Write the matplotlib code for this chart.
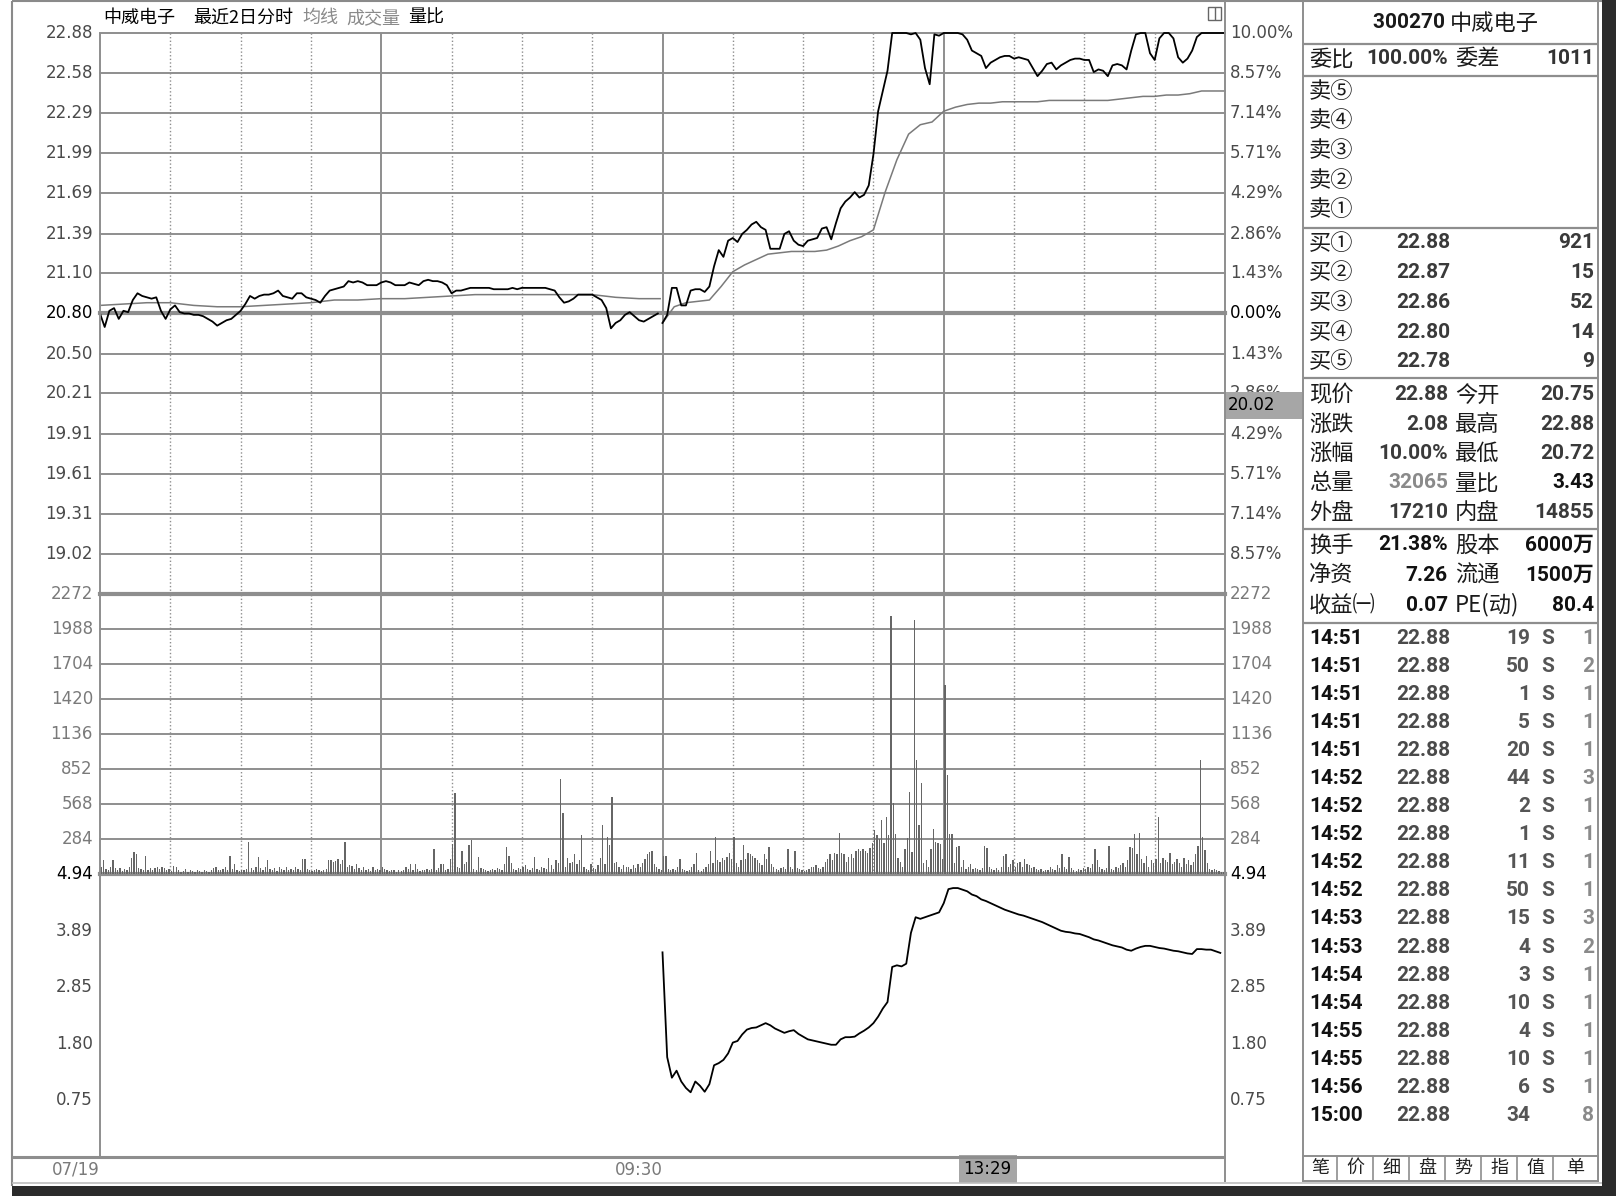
import numpy as np
import matplotlib
matplotlib.use('Agg')
import matplotlib.pyplot as plt
from matplotlib.lines import Line2D
from matplotlib.patches import Rectangle
from matplotlib.transforms import blended_transform_factory

# ---------------- data ----------------
stock_name = '中威电子'
stock_code = '300270'
price_labels = ['22.88', '22.58', '22.29', '21.99', '21.69', '21.39', '21.10',
                '20.80', '20.50', '20.21', '19.91', '19.61', '19.31', '19.02']
pct_labels = ['10.00%', '8.57%', '7.14%', '5.71%', '4.29%', '2.86%', '1.43%',
              '0.00%', '1.43%', '2.86%', '4.29%', '5.71%', '7.14%', '8.57%']
vol_labels = ['2272', '1988', '1704', '1420', '1136', '852', '568', '284']
ratio_labels = ['4.94', '3.89', '2.85', '1.80', '0.75']
date_labels = ['07/19', '09:30']
cursor_time = '13:29'
cursor_price = '20.02'

# day 1 price, every 2 minutes
price_day1 = [20.80, 20.70, 20.82, 20.84, 20.76, 20.82, 20.81, 20.90, 20.95, 20.93,
              20.92, 20.91, 20.92, 20.82, 20.76, 20.83, 20.86, 20.81, 20.80, 20.80,
              20.79, 20.79, 20.78, 20.76, 20.74, 20.71, 20.73, 20.75, 20.76, 20.79,
              20.82, 20.87, 20.93, 20.91, 20.93, 20.94, 20.94, 20.95, 20.97, 20.93,
              20.92, 20.91, 20.95, 20.95, 20.92, 20.91, 20.90, 20.88, 20.93, 20.97,
              20.98, 20.99, 21.00, 21.04, 21.03, 21.04, 21.03, 21.01, 21.01, 21.01,
              21.03, 21.04, 21.03, 21.01, 21.01, 21.01, 21.03, 21.02, 21.01, 21.04,
              21.05, 21.04, 21.04, 21.03, 21.01, 20.95, 20.97, 20.97, 20.98, 20.99,
              20.99, 20.99, 20.99, 20.99, 20.98, 20.98, 20.98, 20.98, 20.99, 20.98,
              20.99, 20.99, 20.99, 20.99, 20.99, 20.99, 20.98, 20.97, 20.92, 20.88,
              20.89, 20.91, 20.94, 20.94, 20.94, 20.94, 20.92, 20.90, 20.84, 20.69,
              20.73, 20.75, 20.79, 20.81, 20.78, 20.75, 20.74, 20.76, 20.78, 20.80]
# day 1 average price, every 10 minutes
avg_day1 = [20.86, 20.87, 20.88, 20.88, 20.86, 20.85, 20.85, 20.86, 20.87, 20.88,
            20.90, 20.90, 20.91, 20.91, 20.92, 20.93, 20.94, 20.94, 20.94, 20.94,
            20.94, 20.94, 20.92, 20.91, 20.91]
# day 2 price, every 2 minutes
price_day2 = [20.73, 20.79, 20.99, 20.99, 20.86, 20.86, 20.97, 20.98, 20.98, 20.96,
              21.00, 21.15, 21.27, 21.22, 21.34, 21.36, 21.33, 21.39, 21.42, 21.46,
              21.48, 21.44, 21.42, 21.28, 21.28, 21.28, 21.39, 21.41, 21.34, 21.31,
              21.30, 21.34, 21.35, 21.36, 21.43, 21.44, 21.35, 21.47, 21.58, 21.63,
              21.66, 21.70, 21.66, 21.68, 21.75, 21.98, 22.30, 22.45, 22.60, 22.88,
              22.88, 22.88, 22.88, 22.87, 22.88, 22.83, 22.62, 22.50, 22.87, 22.86,
              22.88, 22.88, 22.88, 22.88, 22.87, 22.83, 22.75, 22.73, 22.71, 22.62,
              22.66, 22.68, 22.70, 22.71, 22.71, 22.69, 22.70, 22.69, 22.68, 22.62,
              22.56, 22.60, 22.65, 22.66, 22.61, 22.64, 22.66, 22.68, 22.69, 22.69,
              22.68, 22.68, 22.59, 22.61, 22.60, 22.56, 22.64, 22.65, 22.64, 22.61,
              22.75, 22.87, 22.88, 22.88, 22.73, 22.68, 22.84, 22.88, 22.88, 22.84,
              22.70, 22.66, 22.69, 22.75, 22.85, 22.88, 22.88, 22.88, 22.88, 22.88,
              22.88]
# day 2 average price, every 5 minutes
avg_day2 = [20.73, 20.85, 20.88, 20.89, 20.90, 21.00, 21.11, 21.16, 21.20, 21.24,
            21.25, 21.26, 21.26, 21.26, 21.27, 21.30, 21.34, 21.37, 21.42, 21.70,
            21.94, 22.13, 22.20, 22.22, 22.30, 22.33, 22.35, 22.36, 22.36, 22.37,
            22.37, 22.37, 22.37, 22.38, 22.38, 22.38, 22.38, 22.38, 22.38, 22.39,
            22.40, 22.41, 22.41, 22.42, 22.42, 22.43, 22.45, 22.45, 22.45]
# per-minute volume, both days
volume = [
    60, 110, 40, 30, 55, 110, 45, 35, 50, 25, 40, 30, 60, 130, 180, 160, 50, 40, 30, 150,
    35, 50, 30, 45, 55, 40, 60, 45, 30, 40, 25, 65, 60, 30, 20, 25, 40, 20, 30, 25,
    20, 35, 25, 20, 30, 25, 20, 30, 45, 60, 35, 30, 40, 55, 30, 150, 40, 80, 30, 25,
    35, 30, 40, 260, 45, 30, 60, 136, 50, 35, 60, 110, 40, 30, 50, 25, 60, 40, 30, 55,
    35, 40, 30, 55, 40, 35, 120, 125, 40, 30, 25, 35, 40, 30, 25, 35, 40, 110, 115, 95,
    105, 120, 80, 110, 260, 60, 70, 65, 40, 85, 50, 35, 60, 30, 40, 25, 60, 35, 40, 30,
    55, 40, 30, 25, 35, 30, 20, 35, 25, 30, 60, 40, 80, 30, 85, 40, 25, 30, 35, 40,
    30, 40, 205, 35, 50, 80, 85, 30, 40, 120, 245, 655, 60, 50, 190, 80, 100, 232, 273, 40,
    30, 135, 50, 40, 30, 25, 30, 40, 35, 50, 40, 30, 80, 218, 150, 90, 40, 30, 50, 40,
    60, 70, 40, 30, 50, 136, 40, 30, 60, 50, 40, 130, 70, 40, 110, 90, 770, 491, 60, 130,
    90, 100, 164, 80, 110, 314, 60, 40, 30, 80, 50, 40, 70, 130, 396, 80, 300, 232, 628, 90,
    95, 60, 40, 70, 55, 60, 40, 70, 50, 80, 60, 90, 120, 165, 177, 190, 80, 60, 40, 30,
    150, 150, 40, 30, 40, 35, 60, 123, 40, 30, 25, 30, 60, 80, 169, 30, 25, 40, 60, 80,
    185, 90, 300, 110, 100, 130, 110, 140, 170, 120, 300, 90, 60, 110, 232, 120, 170, 160, 150, 130,
    110, 90, 70, 160, 120, 218, 80, 60, 40, 30, 50, 60, 40, 205, 60, 40, 185, 50, 40, 30,
    25, 30, 40, 55, 60, 70, 50, 40, 60, 100, 120, 160, 110, 170, 160, 336, 170, 160, 100, 140,
    160, 130, 190, 200, 185, 200, 190, 170, 210, 250, 355, 320, 280, 442, 250, 459, 320, 2097, 573, 328,
    130, 100, 60, 200, 290, 669, 180, 2061, 928, 401, 737, 90, 110, 60, 205, 369, 260, 250, 240, 120,
    1534, 805, 328, 328, 90, 220, 225, 60, 110, 40, 60, 80, 40, 50, 40, 30, 50, 227, 215, 60,
    40, 30, 50, 30, 60, 150, 165, 60, 80, 110, 60, 90, 100, 60, 120, 80, 70, 50, 60, 40,
    30, 40, 25, 30, 35, 60, 40, 30, 70, 50, 165, 60, 40, 136, 50, 30, 25, 40, 30, 50,
    40, 60, 50, 80, 205, 110, 60, 40, 30, 50, 224, 40, 30, 60, 50, 70, 90, 60, 110, 218,
    210, 328, 160, 333, 120, 90, 150, 60, 110, 90, 120, 464, 90, 130, 110, 100, 170, 80, 100, 120,
    90, 60, 130, 80, 110, 70, 100, 160, 227, 928, 300, 196, 90, 40, 35, 40, 30, 25, 20, 20]
# volume ratio (day 2), every 2 minutes
vol_ratio = [3.49, 1.55, 1.17, 1.30, 1.10, 0.98, 0.90, 1.10, 1.02, 0.91,
             1.05, 1.40, 1.44, 1.50, 1.62, 1.82, 1.85, 1.97, 2.06, 2.09,
             2.10, 2.14, 2.18, 2.14, 2.08, 2.04, 2.00, 2.03, 2.05, 1.98,
             1.93, 1.88, 1.86, 1.84, 1.82, 1.80, 1.78, 1.78, 1.88, 1.92,
             1.92, 1.93, 1.99, 2.04, 2.10, 2.18, 2.30, 2.45, 2.57, 3.22,
             3.25, 3.23, 3.28, 3.85, 4.14, 4.11, 4.14, 4.17, 4.20, 4.23,
             4.40, 4.66, 4.68, 4.68, 4.65, 4.62, 4.56, 4.53, 4.47, 4.44,
             4.40, 4.36, 4.32, 4.28, 4.25, 4.22, 4.19, 4.17, 4.14, 4.11,
             4.08, 4.05, 4.01, 3.97, 3.93, 3.89, 3.87, 3.86, 3.84, 3.83,
             3.80, 3.77, 3.73, 3.71, 3.68, 3.65, 3.62, 3.60, 3.58, 3.54,
             3.52, 3.56, 3.59, 3.61, 3.61, 3.59, 3.57, 3.56, 3.54, 3.52,
             3.51, 3.49, 3.47, 3.46, 3.55, 3.55, 3.54, 3.54, 3.51, 3.48]

# right-hand quote panel
weibi = ('委比', '100.00%', '委差', '1011')
sell_labels = ['卖⑤', '卖④', '卖③', '卖②', '卖①']
buy_labels = ['买①', '买②', '买③', '买④', '买⑤']
buy_prices = ['22.88', '22.87', '22.86', '22.80', '22.78']
buy_vols = ['921', '15', '52', '14', '9']
stat_rows = [('现价', '22.88', '今开', '20.75'),
             ('涨跌', '2.08', '最高', '22.88'),
             ('涨幅', '10.00%', '最低', '20.72'),
             ('总量', '32065', '量比', '3.43'),
             ('外盘', '17210', '内盘', '14855')]
info_rows = [('换手', '21.38%', '股本', '6000万'),
             ('净资', '7.26', '流通', '1500万'),
             ('收益㈠', '0.07', 'PE(动)', '80.4')]
trade_times = ['14:51'] * 5 + ['14:52'] * 5 + ['14:53'] * 2 + ['14:54'] * 2 + \
              ['14:55'] * 2 + ['14:56', '15:00']
trade_prices = ['22.88'] * 18
trade_vols = ['19', '50', '1', '5', '20', '44', '2', '1', '11', '50', '15', '4', '3',
              '10', '4', '10', '6', '34']
trade_sides = ['S'] * 17 + ['']
trade_counts = ['1', '2', '1', '1', '1', '3', '1', '1', '1', '1', '3', '2', '1', '1',
                '1', '1', '1', '8']
buttons = ['笔', '价', '细', '盘', '势', '指', '值', '单']

# ---------------- figure ----------------
W, H, DPI = 1616, 1196, 100
fig = plt.figure(figsize=(W / DPI, H / DPI), dpi=DPI)
fig.patch.set_facecolor('white')
CJK = ['Noto Sans CJK SC', 'DejaVu Sans']
NUM = ['Roboto', 'Noto Sans CJK SC', 'DejaVu Sans']
AX = ['DejaVu Sans']
GRID = '#8e8e8e'


def fx(x):
    return x / W


def fy(y):
    return 1 - y / H


def fline(x0, y0, x1, y1, color=GRID, lw=1.4, z=2):
    fig.add_artist(Line2D([fx(x0), fx(x1)], [fy(y0), fy(y1)], transform=fig.transFigure,
                          color=color, lw=lw, zorder=z, solid_capstyle='butt'))


def frect(x0, y0, x1, y1, fc, ec='none', lw=1.0, z=1):
    fig.add_artist(Rectangle((fx(x0), fy(y1)), (x1 - x0) / W, (y1 - y0) / H,
                             transform=fig.transFigure, fc=fc, ec=ec, lw=lw, zorder=z))


def ftext(x, y, s, ha='left', size=16, color='#1a1a1a', family=CJK, weight='normal'):
    fig.text(fx(x), fy(y), s, ha=ha, va='center', fontsize=size, color=color,
             family=family, weight=weight)


L, R = 100, 1225
T_P, B_P, B_V, B_R = 33, 594, 874, 1157
NMIN = 480


def make_ax(y0, y1):
    ax = fig.add_axes([fx(L), fy(y1), (R - L) / W, (y1 - y0) / H])
    ax.set_axis_off()
    ax.set_xlim(0, NMIN)
    return ax


axp = make_ax(T_P, B_P)
axp.set_ylim(18.72, float(price_labels[0]))
axv = make_ax(B_P, B_V)
axv.set_ylim(0, float(vol_labels[0]))
axr = make_ax(B_V, B_R)
step_r = float(ratio_labels[0]) - float(ratio_labels[1])
axr.set_ylim(float(ratio_labels[0]) - 5 * (float(ratio_labels[0]) - float(ratio_labels[-1])) / 4,
             float(ratio_labels[0]))

# grids
for ax in (axp, axv):
    for k in range(1, 16):
        if k % 4 == 0:
            ax.axvline(k * 30, color=GRID, lw=1.4, zorder=1)
        else:
            ax.axvline(k * 30, color=GRID, lw=1.0, ls=(0, (1, 1.6)), zorder=1)
for lab in price_labels:
    axp.axhline(float(lab), color=GRID, lw=3.0 if lab == '20.80' else 1.4, zorder=1,
                clip_on=False)
for lab in vol_labels:
    axv.axhline(float(lab), color=GRID, lw=3.0 if lab == vol_labels[0] else 1.4, zorder=1,
                clip_on=False)
axv.axhline(0, color=GRID, lw=3.0, zorder=1, clip_on=False)

# data lines
x1 = np.arange(len(price_day1)) * 2
xa1 = np.minimum(np.arange(len(avg_day1)) * 10, 239)
x2 = 240 + np.arange(len(price_day2)) * 2
xa2 = 240 + np.arange(len(avg_day2)) * 5
axp.plot(xa1, avg_day1, color='#7a7a7a', lw=1.1, zorder=3, clip_on=False)
axp.plot(xa2, avg_day2, color='#7a7a7a', lw=1.1, zorder=3, clip_on=False)
axp.plot(x1, price_day1, color='black', lw=1.3, zorder=4, clip_on=False)
axp.plot(x2, price_day2, color='black', lw=1.3, zorder=4, clip_on=False)

xv = np.arange(len(volume)) + 0.5
axv.bar(xv, volume, width=0.55, color='#666666', zorder=3)

xr = 240 + np.arange(len(vol_ratio)) * 2
axr.plot(xr, vol_ratio, color='black', lw=1.3, zorder=3)

# axis labels
dl = -7 / (R - L)
dr = 1 + 5 / (R - L)
tp = axp.get_yaxis_transform()
for lab, pct in zip(price_labels, pct_labels):
    c = 'black' if lab == '20.80' else '#4a4a4a'
    axp.text(dl, float(lab), lab, transform=tp, ha='right', va='center', fontsize=12,
             color=c, family=AX, clip_on=False)
    axp.text(dr, float(lab), pct, transform=tp, ha='left', va='center', fontsize=12,
             color=c, family=AX, clip_on=False, zorder=3)
tv = axv.get_yaxis_transform()
for lab in vol_labels:
    for xx, ha in ((dl, 'right'), (dr, 'left')):
        axv.text(xx, float(lab), lab, transform=tv, ha=ha, va='center', fontsize=12,
                 color='#7a7a7a', family=AX, clip_on=False)
trr = axr.get_yaxis_transform()
for lab in ratio_labels:
    c = 'black' if lab == ratio_labels[0] else '#4a4a4a'
    for xx, ha in ((dl, 'right'), (dr, 'left')):
        axr.text(xx, float(lab), lab, transform=trr, ha=ha, va='center', fontsize=12,
                 color=c, family=AX, clip_on=False)

# cursor price box
cp = float(cursor_price)
axp.add_patch(Rectangle((1.0, cp), 77 / (R - L), 0.2, transform=tp, fc='#a6a6a6',
                        ec='none', clip_on=False, zorder=6))
axp.text(1 + 3 / (R - L), cp + 0.1, cursor_price, transform=tp, ha='left', va='center',
         fontsize=12, color='black', family=AX, clip_on=False, zorder=7)

# date strip
tb = blended_transform_factory(axr.transData, fig.transFigure)
for xi, lab in zip((0, 240), date_labels):
    axr.text(xi, fy(1170), lab, transform=tb, ha='right', va='center', fontsize=12,
             color='#7a7a7a', family=AX, clip_on=False)
hh, mm = map(int, cursor_time.split(':'))
cidx = 240 + (120 + (hh - 13) * 60 + mm if hh >= 13 else (hh - 9) * 60 + mm - 30)
axr.text(cidx, fy(1169), cursor_time, transform=tb, ha='right', va='center', fontsize=12,
         color='black', family=AX, clip_on=False,
         bbox=dict(boxstyle='square,pad=0.3', fc='#a6a6a6', ec='none'))

# header
ftext(103, 18, stock_name, size=13, color='black')
ftext(193, 18, '最近2日分时', size=13, color='black')
ftext(302, 18, '均线', size=13, color='#8a8a8a')
ftext(346, 18, '成交量', size=13, color='#8a8a8a')
ftext(408, 18, '量比', size=13, color='black')
frect(1208, 7, 1221, 20, fc='white', ec='#666666', lw=1.0, z=3)
fline(1214.5, 7, 1214.5, 20, color='#666666', lw=1.0, z=4)

# frame
fline(12, 1, 1602, 1, color='#8a8a8a', lw=1.5)
fline(12, 1, 12, 1186, color='#8a8a8a', lw=1.5)
fline(L, T_P, L, B_R, color=GRID, lw=1.4)
fline(R, 1, R, 1182, color=GRID, lw=1.4)
fline(12, B_R, R, B_R, color=GRID, lw=2.2)
fline(12, 1183, 1602, 1183, color='#bdbdbd', lw=1.2)
fline(1303, 1, 1303, 1182, color=GRID, lw=1.4)
fline(1598, 1, 1598, 1182, color=GRID, lw=1.4)
for yy in (44, 76, 228, 378, 529, 623):
    fline(1303, yy, 1598, yy, color=GRID, lw=1.6)
frect(12, 1186, 1616, 1196, fc='#2b2b2b', z=5)
frect(1602, 0, 1616, 1196, fc='#2b2b2b', z=5)

# right panel
fig.text(fx(1450), fy(23), stock_code + ' ', ha='right', va='center', fontsize=15,
         color='#1a1a1a', family=NUM, weight='bold')
ftext(1450, 23, stock_name, size=16)
ftext(1309, 59, weibi[0])
ftext(1448, 59, weibi[1], ha='right', size=15, family=NUM, weight='bold', color='#333333')
ftext(1455, 59, weibi[2])
ftext(1594, 59, weibi[3], ha='right', size=15, family=NUM, weight='bold', color='#333333')
for i, lab in enumerate(sell_labels):
    ftext(1309, 91 + i * 29.7, lab)
for i, (lab, p, v) in enumerate(zip(buy_labels, buy_prices, buy_vols)):
    y = 243 + i * 29.7
    ftext(1309, y, lab)
    ftext(1450, y, p, ha='right', size=15, family=NUM, weight='bold', color='#3a3a3a')
    ftext(1594, y, v, ha='right', size=15, family=NUM, weight='bold', color='#3a3a3a')
for i, (a, b, c, d) in enumerate(stat_rows):
    y = 395 + i * 29.3
    ftext(1309, y, a)
    col = '#8a8a8a' if a == '总量' else '#3a3a3a'
    ftext(1448, y, b, ha='right', size=15, family=NUM, weight='bold', color=col)
    ftext(1455, y, c)
    dcol = '#111111' if c == '量比' else '#3a3a3a'
    ftext(1594, y, d, ha='right', size=15, family=NUM, weight='bold', color=dcol)
for i, (a, b, c, d) in enumerate(info_rows):
    y = 545 + i * 30
    ftext(1309, y, a)
    ftext(1448, y, b, ha='right', size=15, family=NUM, weight='bold', color='#111111')
    ftext(1455, y, c)
    ftext(1594, y, d, ha='right', size=15, family=NUM, weight='bold', color='#111111')
for i in range(len(trade_times)):
    y = 638 + i * 28.1
    ftext(1309, y, trade_times[i], size=15, family=NUM, weight='bold', color='#111111')
    ftext(1450, y, trade_prices[i], ha='right', size=15, family=NUM, weight='bold',
          color='#4a4a4a')
    ftext(1530, y, trade_vols[i], ha='right', size=15, family=NUM, weight='bold',
          color='#555555')
    ftext(1548, y, trade_sides[i], ha='center', size=15, family=NUM, weight='bold',
          color='#555555')
    ftext(1594, y, trade_counts[i], ha='right', size=15, family=NUM, weight='bold',
          color='#8a8a8a')

# buttons
bx = [1303, 1337, 1373, 1409, 1445, 1481, 1517, 1553, 1598]
frect(1303, 1156, 1598, 1181, fc='white', ec=GRID, lw=1.4, z=2)
for x in bx[1:-1]:
    fline(x, 1156, x, 1181, color=GRID, lw=1.2, z=3)
for i, b in enumerate(buttons):
    ftext((bx[i] + bx[i + 1]) / 2, 1168, b, ha='center', size=13, color='#222222')

fig.savefig('out.png', dpi=DPI, facecolor='white')
